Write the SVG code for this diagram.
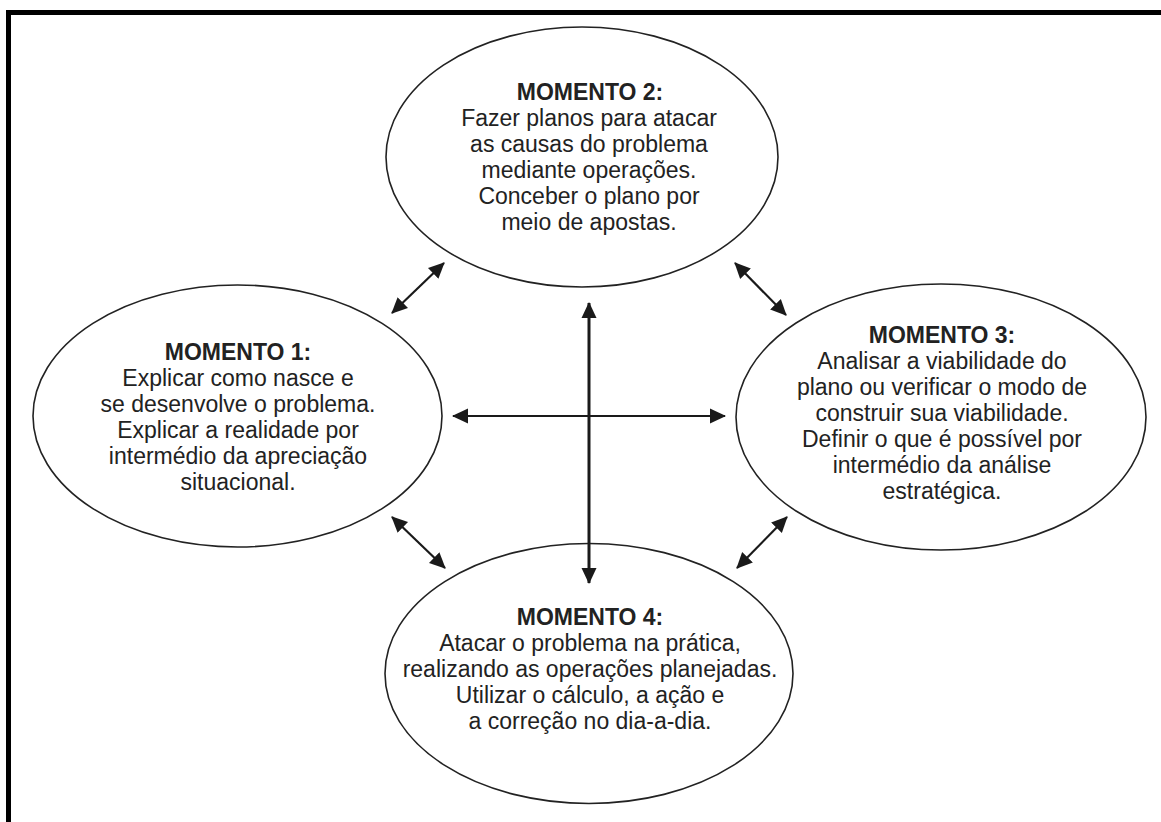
<svg xmlns="http://www.w3.org/2000/svg" width="1161" height="822" viewBox="0 0 1161 822">
<style>
.bg{fill:#ffffff}
.frame{fill:none;stroke:#000;stroke-width:5}
.node{fill:#fff;stroke:#222;stroke-width:1.6}
.t{font-family:"Liberation Sans",Arial,sans-serif;font-size:23px;fill:#222;text-anchor:middle}
.h{font-weight:bold}
.c{stroke:#1a1a1a;stroke-width:2.2;fill:none;marker-start:url(#ah);marker-end:url(#ah)}
.v{stroke-width:3}
</style>
<defs>
<marker id="ah" markerUnits="userSpaceOnUse" markerWidth="16" markerHeight="16" viewBox="0 0 16 16" refX="15" refY="8" orient="auto-start-reverse">
<path d="M0,0.5 L16,8 L0,15.5 z" fill="#1a1a1a"/>
</marker>
</defs>
<rect class="bg" x="0" y="0" width="1161" height="822"/>
<rect class="frame" x="8.5" y="12.5" width="1200" height="900"/>
<g id="m2">
<ellipse class="node" cx="582" cy="157" rx="196" ry="130"/>
<text class="t h" x="590" y="100">MOMENTO 2:</text>
<text class="t" x="589" y="126">Fazer planos para atacar</text>
<text class="t" x="589" y="152">as causas do problema</text>
<text class="t" x="589" y="178">mediante operações.</text>
<text class="t" x="589" y="204">Conceber o plano por</text>
<text class="t" x="589" y="230">meio de apostas.</text>
</g>
<g id="m1">
<ellipse class="node" cx="237.5" cy="416" rx="204.5" ry="131"/>
<text class="t h" x="238" y="360">MOMENTO 1:</text>
<text class="t" x="238" y="386">Explicar como nasce e</text>
<text class="t" x="238" y="412">se desenvolve o problema.</text>
<text class="t" x="238" y="438">Explicar a realidade por</text>
<text class="t" x="238" y="464">intermédio da apreciação</text>
<text class="t" x="238" y="490">situacional.</text>
</g>
<g id="m3">
<ellipse class="node" cx="941" cy="417" rx="205" ry="133"/>
<text class="t h" x="942" y="343">MOMENTO 3:</text>
<text class="t" x="942" y="369">Analisar a viabilidade do</text>
<text class="t" x="942" y="395">plano ou verificar o modo de</text>
<text class="t" x="942" y="421">construir sua viabilidade.</text>
<text class="t" x="942" y="447">Definir o que é possível por</text>
<text class="t" x="942" y="473">intermédio da análise</text>
<text class="t" x="942" y="499">estratégica.</text>
</g>
<g id="m4">
<ellipse class="node" cx="589" cy="673.5" rx="204" ry="130"/>
<text class="t h" x="590" y="625">MOMENTO 4:</text>
<text class="t" x="590" y="651">Atacar o problema na prática,</text>
<text class="t" x="590" y="677">realizando as operações planejadas.</text>
<text class="t" x="590" y="703">Utilizar o cálculo, a ação e</text>
<text class="t" x="590" y="729">a correção no dia-a-dia.</text>
</g>
<g id="connectors">
<line class="c" x1="453" y1="416" x2="725" y2="416"/>
<line class="c v" x1="589" y1="303" x2="589" y2="583"/>
<line class="c" x1="392" y1="313" x2="444" y2="263"/>
<line class="c" x1="735" y1="263" x2="786" y2="315"/>
<line class="c" x1="392" y1="517" x2="445" y2="568"/>
<line class="c" x1="787" y1="517" x2="737" y2="568"/>
</g>
</svg>
